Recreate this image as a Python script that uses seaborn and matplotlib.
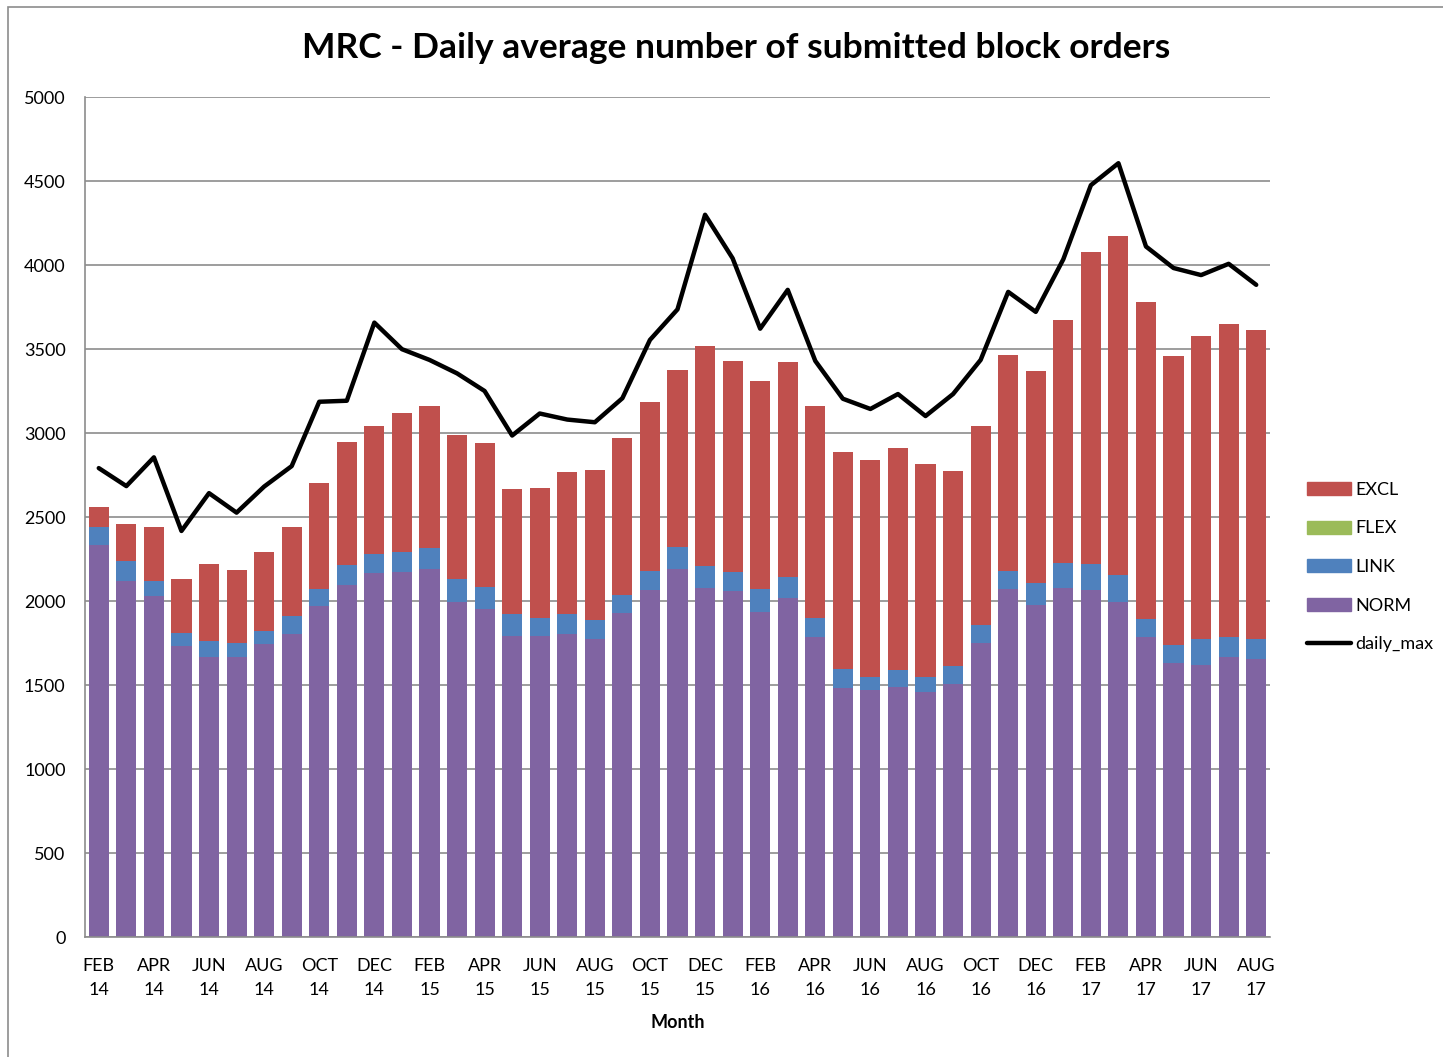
import matplotlib
matplotlib.use('Agg')
import matplotlib.pyplot as plt
from matplotlib.lines import Line2D
from matplotlib.patches import Patch, Rectangle
import numpy as np
import pandas as pd
import seaborn as sns

# Feb 2014 .. Aug 2017, one bar per month
month_index = pd.date_range('2014-02-01', periods=43, freq='MS')
months = [d.strftime('%b').upper() + '\n' + d.strftime('%y') for d in month_index]

norm = [2332, 2122, 2028, 1733, 1669, 1669, 1742, 1803, 1970, 2095, 2168,
        2174, 2189, 1997, 1955, 1794, 1791, 1803, 1772, 1927, 2067, 2192, 2079,
        2058, 1936, 2016, 1784, 1484, 1468, 1490, 1456, 1505, 1748, 2073, 1976,
        2076, 2067, 1997, 1784, 1629, 1617, 1666, 1654]
link = [106, 118, 94, 76, 91, 79, 82, 106, 103, 121, 109,
        115, 124, 131, 127, 127, 109, 121, 116, 110, 110, 128, 128,
        116, 137, 127, 116, 112, 82, 97, 94, 106, 109, 104, 131,
        149, 152, 158, 110, 110, 155, 122, 121]
flex = [0] * 43
excl = [119, 216, 316, 319, 462, 438, 465, 529, 627, 733, 766,
        833, 849, 860, 861, 748, 775, 845, 891, 933, 1006, 1054, 1313,
        1255, 1238, 1280, 1262, 1292, 1292, 1322, 1268, 1161, 1186, 1289, 1261,
        1450, 1858, 2019, 1888, 1717, 1803, 1863, 1840]
daily_max = [2791, 2684, 2855, 2417, 2642, 2526, 2681, 2803, 3186, 3192, 3657,
             3499, 3435, 3355, 3250, 2985, 3116, 3080, 3064, 3207, 3554, 3736, 4299,
             4040, 3621, 3852, 3429, 3204, 3143, 3232, 3101, 3232, 3435, 3840, 3721,
             4034, 4475, 4606, 4110, 3982, 3940, 4007, 3882]

colors = {'NORM': '#8064A2', 'LINK': '#4F81BD', 'FLEX': '#9BBB59', 'EXCL': '#C0504D'}

df = pd.DataFrame({'month': months, 'NORM': norm, 'LINK': link,
                   'FLEX': flex, 'EXCL': excl, 'daily_max': daily_max})
df['top_NORM'] = df['NORM']
df['top_LINK'] = df['top_NORM'] + df['LINK']
df['top_FLEX'] = df['top_LINK'] + df['FLEX']
df['top_EXCL'] = df['top_FLEX'] + df['EXCL']

sns.set_style('white')
plt.rcParams['font.family'] = ['Lato', 'DejaVu Sans']
plt.rcParams['text.color'] = 'black'
plt.rcParams['xtick.color'] = 'black'
plt.rcParams['ytick.color'] = 'black'
plt.rcParams['axes.labelcolor'] = 'black'

fig = plt.figure(figsize=(14.43, 10.57), dpi=100)
ax = fig.add_axes([85 / 1443, 1 - 937 / 1057, 1185 / 1443, 840 / 1057])

# stacked bars: draw cumulative tops from the tallest down
for name in ['EXCL', 'FLEX', 'LINK', 'NORM']:
    sns.barplot(data=df, x='month', y='top_' + name, color=colors[name],
                saturation=1, width=0.73, linewidth=0, ax=ax, zorder=2)

sns.lineplot(x=np.arange(len(df)), y=df['daily_max'], color='black',
             linewidth=3.2, ax=ax, zorder=3)

ax.set_xlim(-0.5, len(df) - 0.5)
ax.set_ylim(0, 5000)
ax.set_yticks(np.arange(0, 5001, 500))
ax.yaxis.grid(True, color='#8c8c8c', linewidth=1.2, zorder=0)
ax.set_axisbelow(True)

ax.set_xticks(np.arange(0, len(df), 2))
ax.set_xticklabels(months[::2])
ax.set_xticks(np.arange(-0.5, len(df), 2), minor=True)
ax.tick_params(axis='x', which='major', length=0, pad=15, labelsize=13)
ax.tick_params(axis='x', which='minor', length=6, color='#8c8c8c', width=1.2, direction='out')
ax.tick_params(axis='y', length=6, color='#8c8c8c', width=1.2, direction='out', labelsize=13, pad=8)
for t in ax.get_xticklabels():
    t.set_linespacing(1.65)

for side in ['top', 'right']:
    ax.spines[side].set_visible(False)
for side in ['left', 'bottom']:
    ax.spines[side].set_color('#8c8c8c')
    ax.spines[side].set_linewidth(1.2)

ax.set_ylabel('')
ax.set_xlabel('Month', fontsize=13, fontweight='bold', labelpad=11)
fig.text(0.51, 1 - 48 / 1057, 'MRC - Daily average number of submitted block orders',
         ha='center', va='center', fontsize=25.5, fontweight='bold', color='black')

handles = [Patch(color=colors['EXCL'], label='EXCL'),
           Patch(color=colors['FLEX'], label='FLEX'),
           Patch(color=colors['LINK'], label='LINK'),
           Patch(color=colors['NORM'], label='NORM'),
           Line2D([0], [0], color='black', linewidth=3.2, label='daily_max')]
fig.legend(handles=handles, loc='center left', bbox_to_anchor=(1300 / 1443, 1 - 567 / 1057),
           frameon=False, fontsize=13, handlelength=2.4, handleheight=0.75,
           handletextpad=0.25, labelspacing=1.25, borderaxespad=0)

# chart area border
fig.patches.append(Rectangle((8 / 1443, -0.1), 1.2, 1 - 7 / 1057 + 0.1,
                             transform=fig.transFigure, fill=False,
                             edgecolor='#8c8c8c', linewidth=1.2))

fig.savefig('out.png', dpi=100)
